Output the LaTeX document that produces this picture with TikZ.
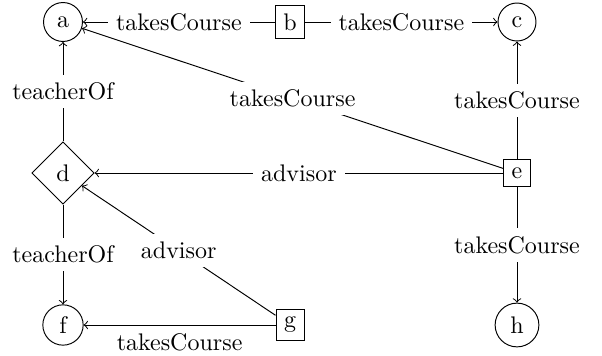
\documentclass[tikz,border=0pt]{standalone}
\usetikzlibrary{shapes.geometric}
\begin{document}
\begin{tikzpicture}[x=0.41667pt,y=-0.41667pt,
  cnode/.style={draw,circle},
  bnode/.style={draw,rectangle},
  dnode/.style={draw,diamond},
  lbl/.style={fill=white},
  edge/.style={->}]
\useasboundingbox (0,0) rectangle (602,356);
\node[cnode] (a) at (63,22) {a};
\node[bnode] (b) at (290,22) {b};
\node[cnode] (c) at (517,22) {c};
\node[dnode] (d) at (63,173) {d};
\node[bnode] (e) at (517,173) {e};
\node[cnode] (f) at (63,325) {f};
\node[bnode] (g) at (290,325) {g};
\node[cnode] (h) at (517,325) {h};
\draw[edge] (b) -- node[lbl] {takesCourse} (a);
\draw[edge] (b) -- node[lbl] {takesCourse} (c);
\draw[edge] (e) -- node[lbl] {takesCourse} (a);
\draw[edge] (e) -- node[lbl] {takesCourse} (c);
\draw[edge] (e) -- node[lbl] {advisor} (d);
\draw[edge] (e) -- node[lbl] {takesCourse} (h);
\draw[edge] (d) -- node[lbl] {teacherOf} (a);
\draw[edge] (d) -- node[lbl] {teacherOf} (f);
\draw[edge] (g) -- node[lbl] {advisor} (d);
\draw[edge] (g) -- node[below] {takesCourse} (f);
\end{tikzpicture}
\end{document}
